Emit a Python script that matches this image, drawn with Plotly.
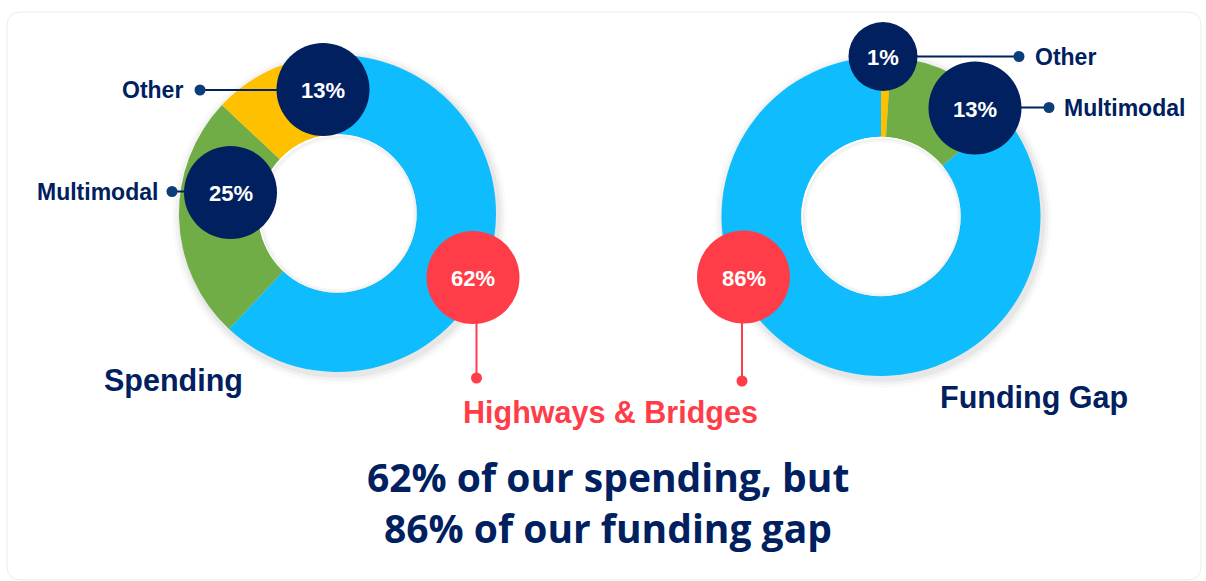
import plotly.graph_objects as go

# ---------------- data ----------------
categories = ["Highways & Bridges", "Multimodal", "Other"]
spending = [62, 25, 13]
funding_gap = [86, 13, 1]
chart_titles = ["Spending", "Funding Gap"]
headline = ["62% of our spending, but", "86% of our funding gap"]

# ---------------- style ----------------
W, H = 1206, 581
NAVY = "#002060"
DOT = "#0B3D7A"
RED = "#FF3D48"
COLORS = ["#0FBCFE", "#70AD47", "#FFC000"]
LABEL_FONT = "Liberation Sans, Arial, sans-serif"
BUBBLE_FONT = "Liberation Sans, Arial, sans-serif"
HEAD_FONT = "Open Sans, Lato, sans-serif"


def px(x):
    return x / W


def py(y):
    return 1 - y / H


def domain(cx, cy, r):
    return dict(x=[px(cx - r), px(cx + r)], y=[py(cy + r), py(cy - r)])


# left ring: clockwise Highways -> Multimodal -> Other from 12 o'clock
# right ring: clockwise Other -> Multimodal -> Highways from 12 o'clock
donuts = [
    dict(order=[0, 1, 2], values=spending, cx=337.5, cy=213.5, r=158.5),
    dict(order=[2, 1, 0], values=funding_gap, cx=881, cy=216.5, r=159.5),
]

fig = go.Figure()
shapes = []
annotations = []

# card outline
shapes.append(dict(type="path", xref="paper", yref="paper",
                   path=(f"M {px(22)},{py(12)} L {px(1187)},{py(12)} Q {px(1201)},{py(12)} {px(1201)},{py(26)} "
                         f"L {px(1201)},{py(566)} Q {px(1201)},{py(580)} {px(1187)},{py(580)} "
                         f"L {px(22)},{py(580)} Q {px(7)},{py(580)} {px(7)},{py(566)} "
                         f"L {px(7)},{py(26)} Q {px(7)},{py(12)} {px(22)},{py(12)} Z"),
                   line=dict(color="#ECECEC", width=1), fillcolor="white", layer="below"))

for d in donuts:
    o = d["order"]
    fig.add_trace(go.Pie(
        labels=[categories[i] for i in o], values=[d["values"][i] for i in o],
        hole=0.5, sort=False, direction="clockwise", rotation=0,
        marker=dict(colors=[COLORS[i] for i in o], line=dict(width=0)),
        textinfo="none", hoverinfo="label+percent", showlegend=False,
        domain=domain(d["cx"], d["cy"], d["r"]),
    ))
    # soft shadow behind the ring
    for k, a in [(9, 0.02), (6, 0.03), (3, 0.045)]:
        cx, cy, r = d["cx"] + 2, d["cy"] + 3, d["r"] + k
        shapes.append(dict(type="circle", xref="paper", yref="paper", layer="below",
                           x0=px(cx - r), x1=px(cx + r), y0=py(cy + r), y1=py(cy - r),
                           fillcolor=f"rgba(0,0,0,{a})", line=dict(width=0)))
    # white hole with a faint inner shadow
    ri = d["r"] * 0.5
    shapes.append(dict(type="circle", xref="paper", yref="paper", layer="above",
                       x0=px(d["cx"] - ri), x1=px(d["cx"] + ri),
                       y0=py(d["cy"] + ri), y1=py(d["cy"] - ri),
                       fillcolor="white", line=dict(width=0)))
    for k, a in [(1.5, 0.06), (3.5, 0.03)]:
        rr = ri - k
        shapes.append(dict(type="circle", xref="paper", yref="paper", layer="above",
                           x0=px(d["cx"] - rr + 1), x1=px(d["cx"] + rr + 1),
                           y0=py(d["cy"] + rr + 1), y1=py(d["cy"] - rr + 1),
                           fillcolor="rgba(0,0,0,0)", line=dict(color=f"rgba(0,0,0,{a})", width=2)))


def line(x0, y0, x1, y1, color, width=2):
    shapes.append(dict(type="line", xref="paper", yref="paper", layer="above",
                       x0=px(x0), y0=py(y0), x1=px(x1), y1=py(y1),
                       line=dict(color=color, width=width)))


def dot(x, y, color, r=5.5):
    shapes.append(dict(type="circle", xref="paper", yref="paper", layer="above",
                       x0=px(x - r), x1=px(x + r), y0=py(y + r), y1=py(y - r),
                       fillcolor=color, line=dict(width=0)))


def bubble(x, y, r, color, text, size=22):
    shapes.append(dict(type="circle", xref="paper", yref="paper", layer="above",
                       x0=px(x - r), x1=px(x + r), y0=py(y + r), y1=py(y - r),
                       fillcolor=color, line=dict(width=0)))
    annotations.append(dict(x=px(x), y=py(y + 1), xref="paper", yref="paper",
                            text=f"<b>{text}</b>", showarrow=False,
                            xanchor="center", yanchor="middle",
                            font=dict(family=BUBBLE_FONT, size=size, color="white")))


def label(x, y, text, anchor, color=NAVY, size=23, family=LABEL_FONT):
    annotations.append(dict(x=px(x), y=py(y), xref="paper", yref="paper",
                            text=f"<b>{text}</b>", showarrow=False,
                            xanchor=anchor, yanchor="middle",
                            font=dict(family=family, size=size, color=color)))


# ---- left donut labels ----
line(200, 90, 280, 90, NAVY)
dot(200, 90, DOT)
label(185, 90, categories[2], "right")
bubble(323, 89.5, 46.5, NAVY, f"{spending[2]}%")

line(172, 191.5, 188, 191.5, NAVY)
dot(172, 191.5, DOT)
label(160, 191.5, categories[1], "right")
bubble(230.5, 192.5, 46.5, NAVY, f"{spending[1]}%")

line(476.5, 300, 476.5, 378, RED)
dot(476.5, 378, RED)
bubble(473, 277.5, 46.5, RED, f"{spending[0]}%")

# ---- right donut labels ----
line(900, 56.5, 1019, 56.5, NAVY)
dot(1019, 56.5, DOT)
label(1033, 56.5, categories[2], "left")
bubble(883, 56.5, 34.5, NAVY, f"{funding_gap[2]}%")

line(1000, 107.5, 1049, 107.5, NAVY)
dot(1049, 107.5, DOT)
label(1062, 107.5, categories[1], "left")
bubble(975, 108, 46.5, NAVY, f"{funding_gap[1]}%")

line(742, 300, 742, 381, RED)
dot(742, 381, RED)
bubble(743.5, 277, 46.5, RED, f"{funding_gap[0]}%")

# ---- titles ----
label(102, 380, chart_titles[0], "left", size=30.5)
label(938, 397, chart_titles[1], "left", size=30.5)
label(610, 412, categories[0], "center", color=RED, size=30.5)

label(608, 476, headline[0], "center", size=39, family=HEAD_FONT)
label(608, 527, headline[1], "center", size=39, family=HEAD_FONT)

fig.update_layout(
    width=W, height=H,
    margin=dict(l=0, r=0, t=0, b=0),
    paper_bgcolor="white", plot_bgcolor="white",
    shapes=shapes, annotations=annotations,
    showlegend=False,
)

fig.write_html("out.html", config={"displayModeBar": False},
               post_script="document.body.style.margin='0';")
